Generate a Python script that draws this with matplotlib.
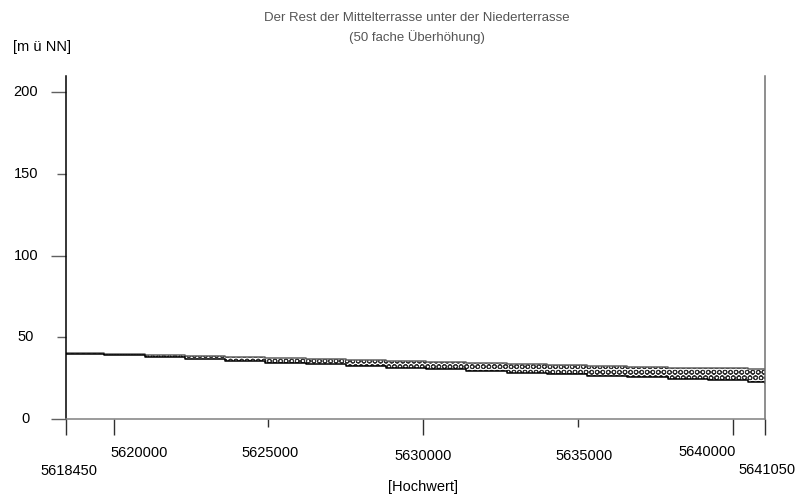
import numpy as np
import matplotlib
matplotlib.use("Agg")
import matplotlib.pyplot as plt

plt.rcParams['font.family'] = ['Liberation Sans', 'DejaVu Sans']
plt.rcParams['hatch.linewidth'] = 0.7
plt.rcParams['hatch.color'] = '#303030'

# Profil: Hochwert [m] und Oberkante / Unterkante der Mittelterrasse [m ü NN]
hochwert = [5618450, 5619700, 5621000, 5622300, 5623600, 5624900, 5626200,
            5627500, 5628800, 5630100, 5631400, 5632700, 5634000, 5635300,
            5636600, 5637900, 5639200, 5640500, 5641050]
oberkante = [40.2, 39.6, 39.1, 38.5, 37.9, 37.3, 36.8, 36.1, 35.6, 35.0,
             34.4, 33.8, 33.3, 32.7, 32.1, 31.5, 31.0, 30.4, 30.0]
unterkante = [40.0, 39.2, 37.9, 36.8, 35.6, 34.4, 33.4, 32.3, 31.4, 30.5,
              29.5, 28.4, 27.4, 26.4, 25.5, 24.6, 23.6, 22.6, 22.0]

x_lang = [5618450, 5620000, 5630000, 5640000, 5641050]
x_kurz = [5625000, 5635000]
# Beschriftung: (wert, versatz x, versatz y, ausrichtung)
x_labels = [(5618450, 3, -52, 'center'), (5620000, -3, -34, 'left'),
            (5625000, 2, -34, 'center'), (5630000, 0, -37, 'center'),
            (5635000, 6, -37, 'center'), (5640000, 3, -33, 'right'),
            (5641050, 2, -51, 'center')]
y_lang = [0, 100, 200]
y_kurz = [50, 150]
y_labels = [0, 50, 100, 150, 200]

W, H = 798, 503
fig = plt.figure(figsize=(W / 100, H / 100), dpi=100)
ax = fig.add_axes([65.7 / W, (H - 419) / H, (765 - 65.7) / W, (419 - 76) / H])

hw = np.array(hochwert)
ax.fill_between(hw, unterkante, oberkante, step='post', facecolor='white',
                hatch='OOO', edgecolor='#303030', linewidth=0)
ax.step(hw, oberkante, where='post', color='#606060', lw=1.1)
ax.step(hw, unterkante, where='post', color='black', lw=1.1)

ax.set_xlim(5618450, 5641050)
ax.set_ylim(0, 209.8)

ax.spines['top'].set_visible(False)
ax.spines['left'].set_color('black')
ax.spines['right'].set_color('#707070')
ax.spines['bottom'].set_color('#808080')
for s in ax.spines.values():
    s.set_linewidth(1.1)

ax.set_xticks(x_lang)
ax.set_xticks(x_kurz, minor=True)
ax.set_yticks(y_lang)
ax.set_yticks(y_kurz, minor=True)
ax.tick_params(axis='x', which='major', length=11.5, width=1, color='#303030',
               labelbottom=False)
ax.tick_params(axis='x', which='minor', length=5.8, width=1, color='#303030',
               labelbottom=False)
ax.tick_params(axis='y', which='major', length=10.5, width=1, color='#606060',
               labelleft=False)
ax.tick_params(axis='y', which='minor', length=6.5, width=1, color='#606060',
               labelleft=False)

for v in y_labels:
    ax.annotate(str(v), xy=(0, v), xycoords=('axes fraction', 'data'),
                xytext=(-40, 0), textcoords='offset pixels',
                ha='center', va='center', fontsize=10.5, color='black')

for v, dx, dy, ha in x_labels:
    ax.annotate(str(v), xy=(v, 0), xycoords=('data', 'axes fraction'),
                xytext=(dx, dy), textcoords='offset pixels',
                ha=ha, va='center', fontsize=10.5, color='black')

fig.text(42 / W, 1 - 47 / H, '[m ü NN]', ha='center', va='center',
         fontsize=10.5, color='black')
fig.text(423 / W, 1 - 487 / H, '[Hochwert]', ha='center', va='center',
         fontsize=10.5, color='black')
fig.text(417 / W, 1 - 18 / H, 'Der Rest der Mittelterrasse unter der Niederterrasse',
         ha='center', va='center', fontsize=9.5, color='#555555')
fig.text(417 / W, 1 - 37 / H, '(50 fache Überhöhung)',
         ha='center', va='center', fontsize=9.5, color='#555555')

fig.savefig('out.png', dpi=100)
